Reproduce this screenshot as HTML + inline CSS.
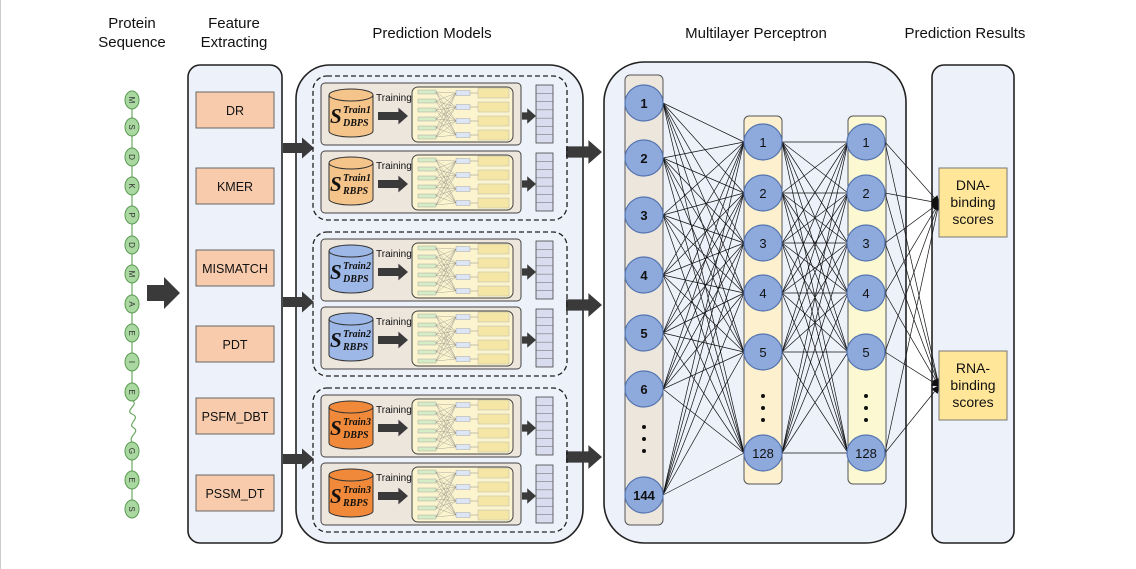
<!DOCTYPE html>
<html><head><meta charset="utf-8"><style>
html,body{margin:0;padding:0;background:#fff;}
svg{display:block;font-family:"Liberation Sans",sans-serif;}
</style></head><body>
<svg id="s" width="1136" height="569" viewBox="0 0 1136 569" xmlns="http://www.w3.org/2000/svg">
<defs>
<marker id="ah" markerWidth="8" markerHeight="8" refX="7" refY="4" orient="auto" markerUnits="userSpaceOnUse"><path d="M0,0 L8,4 L0,8 z" fill="#111"/></marker>
</defs>
<line x1="0.5" y1="0" x2="0.5" y2="569" stroke="#ccc"/>
<g font-size="15" fill="#111" text-anchor="middle">
<text x="132" y="28">Protein</text><text x="132" y="47">Sequence</text>
<text x="234" y="28">Feature</text><text x="234" y="47">Extracting</text>
<text x="432" y="38">Prediction Models</text>
<text x="756" y="38">Multilayer Perceptron</text>
<text x="965" y="38">Prediction Results</text>
</g>
<g id="beads"></g>
<polygon points="147,285 164,285 164,277 180,293 164,309 164,301 147,301" fill="#3a3a3a"/>
<rect x="188" y="65" width="94" height="478" rx="12" fill="#edf1fa" stroke="#222" stroke-width="1.6"/>
<g font-size="12.5" text-anchor="middle" fill="#111">
<rect x="196" y="92" width="78" height="36" fill="#f8cbad" stroke="#666"/><text x="235" y="115">DR</text>
<rect x="196" y="168" width="78" height="36" fill="#f8cbad" stroke="#666"/><text x="235" y="191">KMER</text>
<rect x="196" y="250" width="78" height="36" fill="#f8cbad" stroke="#666"/><text x="235" y="273">MISMATCH</text>
<rect x="196" y="326" width="78" height="36" fill="#f8cbad" stroke="#666"/><text x="235" y="349">PDT</text>
<rect x="196" y="398" width="78" height="36" fill="#f8cbad" stroke="#666"/><text x="235" y="421">PSFM_DBT</text>
<rect x="196" y="475" width="78" height="36" fill="#f8cbad" stroke="#666"/><text x="235" y="498">PSSM_DT</text>
</g>
<rect x="296" y="65" width="287" height="478" rx="34" fill="#edf1fa" stroke="#222" stroke-width="1.6"/>
<g id="models"></g>
<rect x="604" y="62" width="302" height="481" rx="40" fill="#edf1fa" stroke="#222" stroke-width="1.6"/>
<rect x="625" y="75" width="38" height="450" rx="5" fill="#ede6dd" stroke="#555"/>
<rect x="744" y="116" width="38" height="368" rx="5" fill="#fdf0cf" stroke="#555"/>
<rect x="848" y="116" width="38" height="368" rx="5" fill="#fbf8d2" stroke="#555"/>
<rect x="932" y="65" width="82" height="478" rx="12" fill="#edf1fa" stroke="#222" stroke-width="1.6"/>
<g id="lines" stroke="#111" stroke-width="0.7"></g>
<g id="nodes"></g>
<g font-size="14" text-anchor="middle" fill="#111">
<rect x="939" y="168" width="68" height="69" fill="#ffe699" stroke="#777"/>
<text x="973" y="190">DNA-</text><text x="973" y="207">binding</text><text x="973" y="224">scores</text>
<rect x="939" y="351" width="68" height="69" fill="#ffe699" stroke="#777"/>
<text x="973" y="373">RNA-</text><text x="973" y="390">binding</text><text x="973" y="407">scores</text>
</g>
<g fill="#111">
<circle cx="644" cy="427" r="2"/><circle cx="644" cy="439" r="2"/><circle cx="644" cy="451" r="2"/>
<circle cx="763" cy="396" r="2"/><circle cx="763" cy="408" r="2"/><circle cx="763" cy="420" r="2"/>
<circle cx="866" cy="396" r="2"/><circle cx="866" cy="408" r="2"/><circle cx="866" cy="420" r="2"/>
</g>
</svg>
<script>
var NS="http://www.w3.org/2000/svg";
function el(p,t,a,txt){var e=document.createElementNS(NS,t);for(var k in a)e.setAttribute(k,a[k]);if(txt!=null)e.textContent=txt;p.appendChild(e);return e;}
var B=document.getElementById('beads');
var letters="MSDKPDMAEIE".split(""), ys=[100,127,157,186,215,245,274,304,333,362,392];
el(B,'line',{x1:132,y1:100,x2:132,y2:392,stroke:'#6aa860','stroke-width':1.2});
el(B,'line',{x1:132,y1:451,x2:132,y2:509,stroke:'#6aa860','stroke-width':1.2});
el(B,'path',{d:'M132,400 C140,405 124,410 132,414 C142,418 126,424 134,428 C140,432 128,436 132,442',fill:'none',stroke:'#6aa860','stroke-width':1.2});
var all=letters.map(function(l,i){return [l,ys[i]]}).concat([['G',451],['E',480],['S',509]]);
all.forEach(function(a){el(B,'ellipse',{cx:132,cy:a[1],rx:7,ry:9,fill:'#a9d8a0',stroke:'#5a9a50','stroke-width':1});
el(B,'text',{x:132,y:a[1]+3,'font-size':8,'text-anchor':'middle',fill:'#333',transform:'rotate(90 132 '+a[1]+')'},a[0]);});
var M=document.getElementById('models');
function arr(g,x1,x2,y,h){var hw=h*0.7,sw=h/3,ah=h*0.8;var p=el(g,'polygon',{points:x1+','+(y-sw)+' '+(x2-ah)+','+(y-sw)+' '+(x2-ah)+','+(y-hw)+' '+x2+','+y+' '+(x2-ah)+','+(y+hw)+' '+(x2-ah)+','+(y+sw)+' '+x1+','+(y+sw)});p.setAttribute('fill','#3a3a3a');}
[148,302,459].forEach(function(y){arr(M,283,314,y,15);});
[152,305,457].forEach(function(y){arr(M,566,602,y,17);});
var groups=[[76,'1','#f4c48a','#c08a40'],[232,'2','#9db7e6','#5070a8'],[388,'3','#f08a3a','#b05a1a']];
groups.forEach(function(gp){
 var gy=gp[0];
 el(M,'rect',{x:313,y:gy,width:254,height:144,rx:14,fill:'none',stroke:'#222','stroke-width':1.3,'stroke-dasharray':'5,3'});
 [0,68].forEach(function(off,j){
  var py=gy+7+off;
  el(M,'rect',{x:321,y:py,width:200,height:62,rx:4,fill:'#ede6dd',stroke:'#444'});
  var cx=351,ct=py+12,cb=py+48;
  el(M,'path',{d:'M329,'+ct+' L329,'+cb+' A22,6 0 0 0 373,'+cb+' L373,'+ct+' Z',fill:gp[2],stroke:'#333'});
  el(M,'ellipse',{cx:cx,cy:ct,rx:22,ry:6,fill:gp[2],stroke:'#333'});
  el(M,'text',{x:330,y:py+40,'font-size':21,'font-weight':'bold','font-style':'italic','font-family':'Liberation Serif, serif',fill:'#111'},'S');
  el(M,'text',{x:343,y:py+30,'font-size':10,'font-weight':'bold','font-style':'italic','font-family':'Liberation Serif, serif',fill:'#111'},'Train'+gp[1]);
  el(M,'text',{x:343,y:py+43,'font-size':10,'font-weight':'bold','font-style':'italic','font-family':'Liberation Serif, serif',fill:'#111'},j==0?'DBPS':'RBPS');
  el(M,'text',{x:376,y:py+18,'font-size':10,fill:'#111'},'Training');
  arr(M,378,408,py+33,12);
  el(M,'rect',{x:412,y:py+4,width:101,height:55,rx:6,fill:'#fbf4cf',stroke:'#444'});
  for(var i=0;i<6;i++){var yy=py+9+i*9;el(M,'rect',{x:418,y:yy-2,width:18,height:4,fill:'#d6ecc6',stroke:'#999','stroke-width':0.4});
   for(var k=0;k<4;k++){el(M,'line',{x1:436,y1:yy,x2:456,y2:py+10+k*14,stroke:'#777','stroke-width':0.3});}}
  for(var k=0;k<4;k++){var yk=py+10+k*14;el(M,'rect',{x:456,y:yk-2.5,width:14,height:5,fill:'#dde6f6',stroke:'#999','stroke-width':0.4});
   el(M,'rect',{x:478,y:yk-5,width:31,height:10,fill:'#f6e6a6',stroke:'#aaa','stroke-width':0.4});
   el(M,'line',{x1:470,y1:yk,x2:478,y2:yk,stroke:'#777','stroke-width':0.4});}
  arr(M,522,536,py+33,11);
  el(M,'rect',{x:536,y:py+2,width:17,height:58,fill:'#d8dcee',stroke:'#444','stroke-width':0.8});
  for(var r=1;r<7;r++)el(M,'line',{x1:536,y1:py+2+r*58/7,x2:553,y2:py+2+r*58/7,stroke:'#666','stroke-width':0.5});
 });
});
var L=document.getElementById('lines'),N=document.getElementById('nodes');
var inp=[[103,'1'],[158,'2'],[215,'3'],[275,'4'],[333,'5'],[389,'6'],[495,'144']];
var h=[[142,'1'],[193,'2'],[243,'3'],[293,'4'],[352,'5'],[453,'128']];
inp.forEach(function(a){h.forEach(function(b){el(L,'line',{x1:663,y1:a[0],x2:744,y2:b[0]});});});
h.forEach(function(a){h.forEach(function(b){el(L,'line',{x1:782,y1:a[0],x2:848,y2:b[0]});});});
h.forEach(function(a){[203,386].forEach(function(y){el(L,'line',{x1:885,y1:a[0],x2:939,y2:y,'marker-end':'url(#ah)'});});});
function node(x,y,t,bold){el(N,'ellipse',{cx:x,cy:y,rx:19,ry:18,fill:'#8eaadc',stroke:'#5575b0','stroke-width':1.2});
 el(N,'text',{x:x,y:y+5,'font-size':13,'text-anchor':'middle','font-weight':bold?'bold':'normal',fill:'#111'},t);}
inp.forEach(function(a){node(644,a[0],a[1],true);});
h.forEach(function(a){node(763,a[0],a[1]);node(866,a[0],a[1]);});
</script>
</body></html>
